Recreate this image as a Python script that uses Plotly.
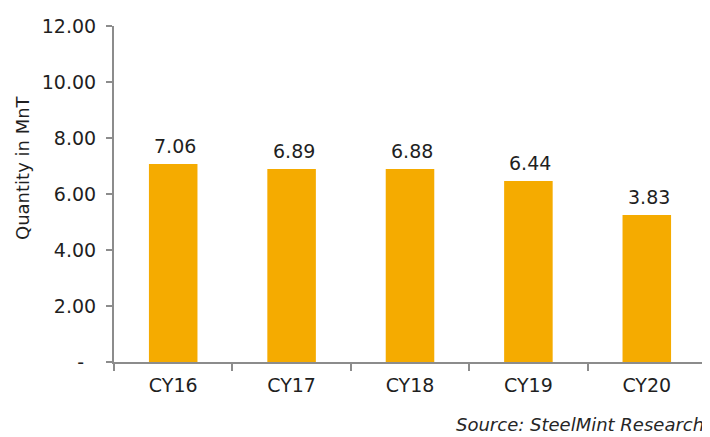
import plotly.graph_objects as go

categories = ["CY16", "CY17", "CY18", "CY19", "CY20"]
values = [7.07, 6.89, 6.89, 6.46, 5.25]
labels = ["7.06", "6.89", "6.88", "6.44", "3.83"]
tick_vals = [0, 2, 4, 6, 8, 10, 12]
tick_text = ["-", "2.00", "4.00", "6.00", "8.00", "10.00", "12.00"]

FONT = "DejaVu Sans"
TXT = "#1f1f1f"
AX = "#8c8c8c"
NB = "\u00a0"

# page body has an 8px default margin; size the figure so the plot lands where the reference has it
W, H = 702, 429
L, R, T, B = 106, 4, 18, 75
pw, ph = W - L - R, H - T - B

fig = go.Figure()
fig.add_trace(go.Bar(x=categories, y=values, marker_color="#F5AB00", width=0.41,
                     marker_line_width=0))

for c, v, t in zip(categories, values, labels):
    fig.add_annotation(x=c, y=v, text=t, showarrow=False, yanchor="bottom",
                       yshift=5, xshift=2, font=dict(family=FONT, size=19, color=TXT))

fig.add_annotation(xref="paper", yref="paper", x=1.0, y=-62 / ph, xanchor="right", yanchor="middle",
                   text="<i>Source: SteelMint Research</i>", showarrow=False,
                   font=dict(family=FONT, size=18, color="#262626"))

fig.add_annotation(xref="paper", yref="paper", x=-(L - 14) / pw, y=(ph - (168 - 26)) / ph,
                   xanchor="center", yanchor="middle", textangle=-90,
                   text="Quantity in MnT", showarrow=False,
                   font=dict(family=FONT, size=18, color=TXT))

# pad tick labels on the right so they sit away from the tick marks like the reference
padded = [t + NB * (3 if t == "-" else 1) for t in tick_text]

fig.update_layout(
    width=W, height=H,
    margin=dict(l=L, r=R, t=T, b=B, autoexpand=False),
    plot_bgcolor="white", paper_bgcolor="white",
    showlegend=False,
)
fig.update_xaxes(showline=True, linecolor=AX, linewidth=2, ticks="outside",
                 tickson="boundaries", ticklen=7, tickcolor=AX, tickwidth=2,
                 tickfont=dict(family=FONT, size=19, color=TXT), showgrid=False,
                 automargin=False, ticklabelstandoff=5)
fig.update_yaxes(range=[0, 12], tickvals=tick_vals, ticktext=padded, showline=True,
                 linecolor=AX, linewidth=2, ticks="outside", ticklen=6,
                 tickcolor=AX, tickwidth=2, showgrid=False, zeroline=False,
                 tickfont=dict(family=FONT, size=19, color=TXT), automargin=False)
fig.write_html("out.html")
